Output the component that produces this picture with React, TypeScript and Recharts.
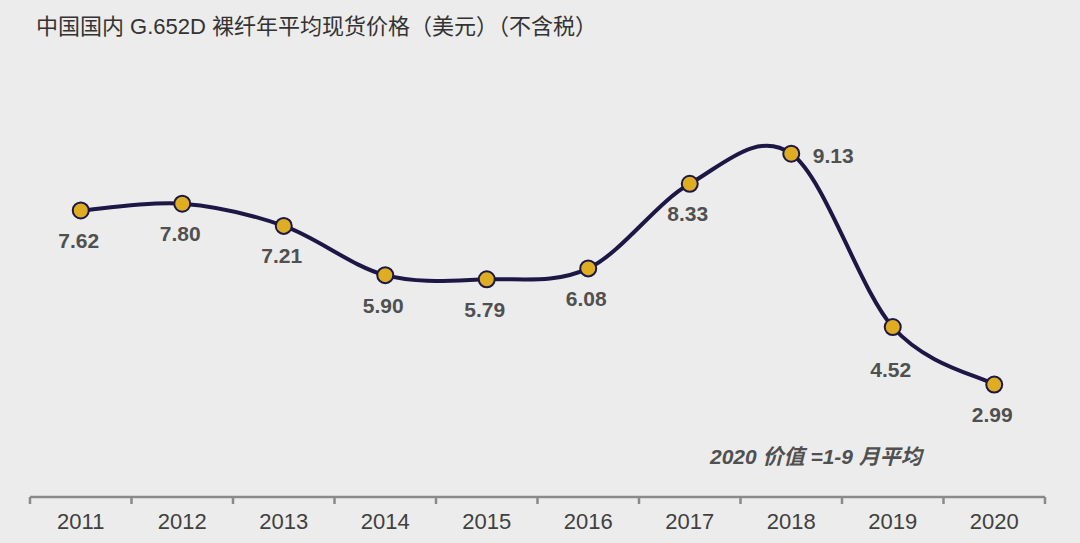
import { LineChart, Line, XAxis, YAxis, LabelList } from "recharts";

const years = ["2011", "2012", "2013", "2014", "2015", "2016", "2017", "2018", "2019", "2020"];
const prices = [7.62, 7.8, 7.21, 5.9, 5.79, 6.08, 8.33, 9.13, 4.52, 2.99];
const edgeTicks = [0, 1, 2, 3, 4, 5, 6, 7, 8, 9, 10];

// where each value label sits relative to its point
const labelSide = ["below", "below", "below", "below", "below", "below", "below", "right", "belowFar", "below"];

const data = years.map((year, i) => ({ year, price: prices[i] }));

const LINE = "#1c1745";
const GOLD = "#dfad22";
const FONT = '"Liberation Sans", Arial, "Noto Sans CJK SC", sans-serif';

// Excel-like smoothed line (Catmull-Rom through every point)
const smoothCurve = (context: any) => {
  let pts: number[][] = [];
  return {
    areaStart() {},
    areaEnd() {},
    lineStart() {
      pts = [];
    },
    lineEnd() {
      if (!pts.length) return;
      context.moveTo(pts[0][0], pts[0][1]);
      for (let i = 0; i < pts.length - 1; i++) {
        const p0 = pts[i - 1] || pts[i];
        const p1 = pts[i];
        const p2 = pts[i + 1];
        const p3 = pts[i + 2] || p2;
        context.bezierCurveTo(
          p1[0] + (p2[0] - p0[0]) / 6,
          p1[1] + (p2[1] - p0[1]) / 6,
          p2[0] - (p3[0] - p1[0]) / 6,
          p2[1] - (p3[1] - p1[1]) / 6,
          p2[0],
          p2[1]
        );
      }
    },
    point(x: number, y: number) {
      pts.push([+x, +y]);
    },
  };
};

const ValueLabel = (props: any) => {
  const { x, y, value, index } = props;
  const side = labelSide[index];
  let tx = x - 2;
  let ty = y + 30;
  if (side === "right") {
    tx = x + 42;
    ty = y + 2;
  } else if (side === "belowFar") {
    ty = y + 42;
  }
  return (
    <text
      x={tx}
      y={ty}
      textAnchor="middle"
      dominantBaseline="central"
      fill="#505050"
      fontSize={21}
      fontWeight="bold"
      fontFamily={FONT}
    >
      {Number(value).toFixed(2)}
    </text>
  );
};

export default function App() {
  return (
    <div
      style={{
        position: "absolute",
        left: 0,
        top: 0,
        width: 1080,
        height: 543,
        background: "#ececec",
        fontFamily: FONT,
        overflow: "hidden",
      }}
    >
      <div
        style={{
          position: "absolute",
          left: 36,
          top: 14,
          fontSize: 22,
          color: "#333333",
          whiteSpace: "nowrap",
          lineHeight: "26px",
        }}
      >
        中国国内 G.652D 裸纤年平均现货价格（美元）（不含税）
      </div>
      <LineChart
        width={1080}
        height={543}
        data={data}
        margin={{ top: 121, right: 35, bottom: 0, left: 30 }}
        style={{ position: "absolute", left: 0, top: 0 }}
      >
        <XAxis
          xAxisId="years"
          dataKey="year"
          scale="band"
          interval={0}
          height={38}
          axisLine={false}
          tickLine={false}
          tick={{ fontSize: 22, fill: "#404040", fontFamily: FONT }}
        />
        <XAxis
          xAxisId="base"
          type="number"
          dataKey="price"
          domain={[0, 10]}
          ticks={edgeTicks}
          allowDataOverflow
          interval={0}
          height={8}
          tickSize={7}
          stroke="#8a8a8a"
          strokeWidth={2.5}
          tick={() => null}
        />
        <YAxis hide domain={[0, 10]} />
        <Line
          xAxisId="years"
          dataKey="price"
          type={smoothCurve as any}
          stroke="none"
          dot={{ r: 8, fill: GOLD, stroke: LINE, strokeWidth: 2 }}
          activeDot={false}
          isAnimationActive={false}
        >
          <LabelList dataKey="price" content={ValueLabel} />
        </Line>
        <Line
          xAxisId="years"
          dataKey="price"
          type={smoothCurve as any}
          stroke={LINE}
          strokeWidth={4}
          dot={false}
          activeDot={false}
          isAnimationActive={false}
        />
      </LineChart>
      <div
        style={{
          position: "absolute",
          left: 710,
          top: 444,
          fontSize: 21,
          fontWeight: "bold",
          fontStyle: "italic",
          color: "#505050",
          whiteSpace: "nowrap",
          lineHeight: "26px",
        }}
      >
        2020 价值 =1-9 月平均
      </div>
    </div>
  );
}
